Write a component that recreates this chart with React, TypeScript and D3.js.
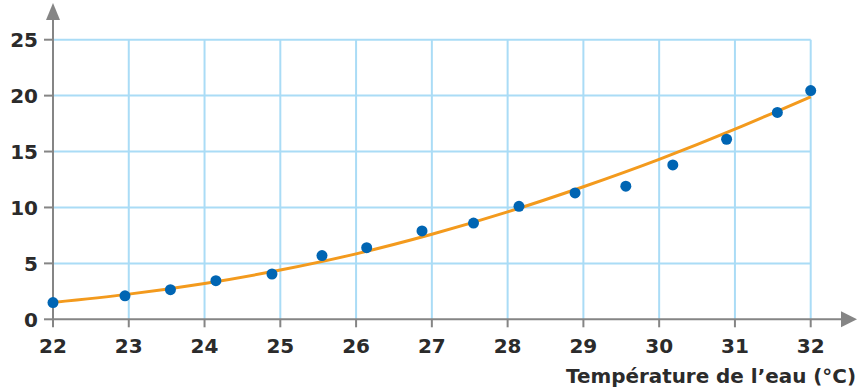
import React from 'react';
import * as d3 from 'd3';

// water temperature (°C) and measured values
const temps = [22, 22.95, 23.55, 24.15, 24.89, 25.55, 26.14, 26.87, 27.55, 28.15, 28.89, 29.56, 30.18, 30.89, 31.56, 32];
const values = [1.5, 2.1, 2.65, 3.45, 4.05, 5.7, 6.4, 7.9, 8.6, 10.1, 11.3, 11.9, 13.8, 16.1, 18.5, 20.45];

// trend curve
const curveTemps = [22, 23, 24, 25, 26, 27, 28, 29, 30, 31, 32];
const curveValues = [1.5, 2.25, 3.2, 4.4, 5.85, 7.6, 9.6, 11.85, 14.3, 17.0, 19.9];

const xTicks = [22, 23, 24, 25, 26, 27, 28, 29, 30, 31, 32];
const yTicks = [0, 5, 10, 15, 20, 25];
const xAxisLabel = 'Température de l’eau (°C)';

export default function App() {
    const width = 859;
    const height = 387;
    const gridColor = '#aadcf6';
    const axisColor = '#858585';
    const textColor = '#2b2b2b';
    const font = '"DejaVu Sans", sans-serif';

    const xScale = d3.scaleLinear().domain([22, 32]).range([53, 810.7]);
    const yScale = d3.scaleLinear().domain([0, 25]).range([319.3, 39.7]);

    const x0 = xScale(22);
    const y0 = yScale(0);

    const points = temps.map((t, i) => ({ t, v: values[i] }));
    const curvePts = curveTemps.map((t, i) => ({ t, v: curveValues[i] }));

    const line = d3.line<{ t: number; v: number }>()
        .x(d => xScale(d.t))
        .y(d => yScale(d.v))
        .curve(d3.curveNatural);

    return (
        <svg width={width} height={height} style={{ position: 'absolute', left: 0, top: 0, background: '#fff' }}>
            {/* grid */}
            <g>
                {xTicks.slice(1).map(t => (
                    <line key={'gx' + t} x1={xScale(t)} x2={xScale(t)} y1={yScale(25)} y2={y0}
                        stroke={gridColor} strokeWidth={2} />
                ))}
                {yTicks.slice(1).map(t => (
                    <line key={'gy' + t} x1={x0} x2={xScale(32)} y1={yScale(t)} y2={yScale(t)}
                        stroke={gridColor} strokeWidth={2} />
                ))}
            </g>

            {/* axes */}
            <g>
                <line x1={x0} x2={842} y1={y0} y2={y0} stroke={axisColor} strokeWidth={2} />
                <path d={`M857,${y0} L841,${y0 - 8} L841,${y0 + 8} Z`} fill={axisColor} />
                <line x1={x0} x2={x0} y1={y0} y2={19} stroke={axisColor} strokeWidth={2} />
                <path d={`M${x0},3 L${x0 - 7},20 L${x0 + 7},20 Z`} fill={axisColor} />

                {xTicks.map(t => (
                    <g key={'xt' + t}>
                        <line x1={xScale(t)} x2={xScale(t)} y1={y0} y2={y0 + 8} stroke={axisColor} strokeWidth={2} />
                        <text x={xScale(t)} y={353} textAnchor="middle" fontFamily={font}
                            fontSize={20} fontWeight="bold" fill={textColor}>{t}</text>
                    </g>
                ))}
                {yTicks.map(t => (
                    <g key={'yt' + t}>
                        <line x1={x0 - 9} x2={x0} y1={yScale(t)} y2={yScale(t)} stroke={axisColor} strokeWidth={2} />
                        <text x={38} y={yScale(t)} dy="0.36em" textAnchor="end" fontFamily={font}
                            fontSize={20} fontWeight="bold" fill={textColor}>{t}</text>
                    </g>
                ))}
                <text x={856} y={383} textAnchor="end" fontFamily={font} fontSize={19}
                    textLength={290} lengthAdjust="spacingAndGlyphs"
                    fontWeight="bold" fill={textColor}>{xAxisLabel}</text>
            </g>

            {/* trend curve */}
            <path d={line(curvePts) || ''} fill="none" stroke="#f39a1d" strokeWidth={3} />

            {/* measured points */}
            <g>
                {points.map((d, i) => (
                    <circle key={i} cx={xScale(d.t)} cy={yScale(d.v)} r={5.5} fill="#0065b3" />
                ))}
            </g>
        </svg>
    );
}
